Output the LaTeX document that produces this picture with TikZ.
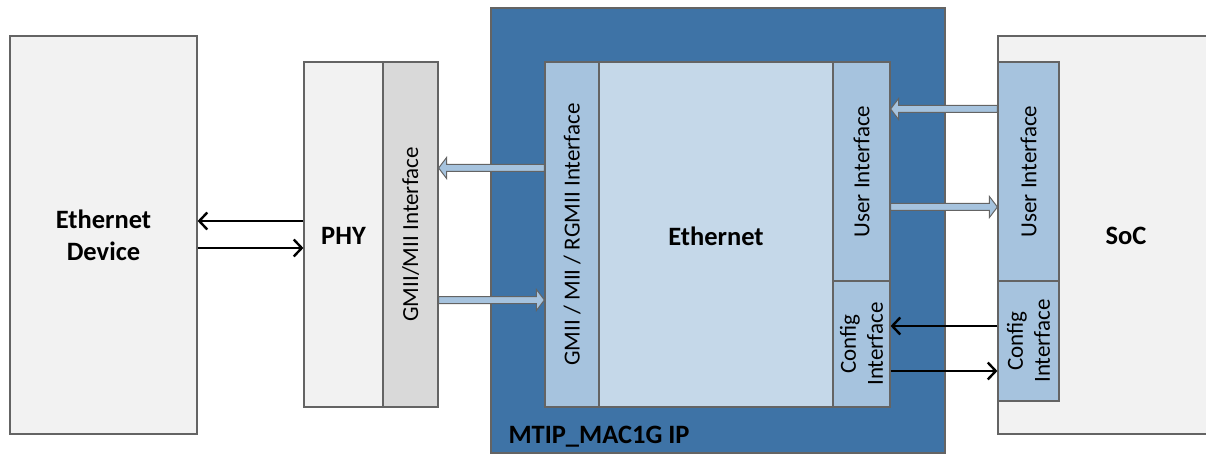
\documentclass[tikz,border=0pt]{standalone}
\usepackage{fontspec}
\setmainfont{Carlito}
\usetikzlibrary{calc,arrows.meta}

\definecolor{boxgray}{HTML}{F2F2F2}
\definecolor{ifgray}{HTML}{D9D9D9}
\definecolor{ipblue}{HTML}{3E73A6}
\definecolor{ifblue}{HTML}{A6C3DE}
\definecolor{coreblue}{HTML}{C5D8E9}
\definecolor{edgegray}{HTML}{646464}

\tikzset{
  blk/.style={draw=edgegray, line width=1.2pt, inner sep=0pt},
  title/.style={font=\fontsize{26.5}{32}\selectfont\bfseries, align=center},
  iftext/.style={rotate=90, font=\fontsize{23}{27}\selectfont, align=center},
  fat/.style={fill=ifblue, draw=edgegray, line width=1pt},
  thin/.style={line width=2.6pt, -{Straight Barb[length=8pt,width=17pt,line width=2.4pt]}}
}

% block arrow between two points of equal height
\newcommand\fatarrow[2]{%
  \draw[fat] let \p1=(#1), \p2=(#2), \n1={ifthenelse(\x2>\x1,1,-1)} in
    (\x1,\y1+3.5pt) -- ({\x2-(\n1*8pt)},\y1+3.5pt) -- ({\x2-(\n1*8pt)},\y1+10.5pt) -- (\x2,\y1)
    -- ({\x2-(\n1*8pt)},\y1-10.5pt) -- ({\x2-(\n1*8pt)},\y1-3.5pt) -- (\x1,\y1-3.5pt) -- cycle;}

\begin{document}
\begin{tikzpicture}[x=1pt,y=-1pt]
\useasboundingbox (0,0) rectangle (1206,454);

% left side
\node[blk, fill=boxgray, minimum width=187pt, minimum height=398pt] (dev) at (103.5,235) {};
\node[title] (devlbl) at (103.5,235) {Ethernet\\Device};

\node[blk, fill=boxgray, minimum width=79pt, minimum height=345pt] (phy) at (343.5,234.5) {};
\node[title] (phylbl) at (343.5,236) {PHY};
\node[blk, fill=ifgray, minimum width=55pt, minimum height=345pt] (phyif) at (410.5,234.5) {};
\node[iftext] (phyiflbl) at (phyif) {GMII/MII Interface};

% the IP
\node[blk, fill=ipblue, minimum width=454pt, minimum height=445pt] (mtip) at (718,230.5) {};
\node[title, anchor=west] (mtiplbl) at (505,437) {MTIP\_MAC1G IP};

\node[blk, fill=ifblue, minimum width=54pt, minimum height=345pt] (ethgmii) at (572,234.5) {};
\node[iftext] (ethgmiilbl) at (ethgmii) {GMII / MII / RGMII Interface};
\node[blk, fill=coreblue, minimum width=234pt, minimum height=345pt] (eth) at (716,234.5) {};
\node[title] (ethlbl) at (716,236) {Ethernet};
\node[blk, fill=ifblue, minimum width=57pt, minimum height=219pt] (ethuser) at (861.5,171.5) {};
\node[iftext] (ethuserlbl) at (ethuser) {User Interface};
\node[blk, fill=ifblue, minimum width=57pt, minimum height=126pt] (ethcfg) at (861.5,344) {};
\node[iftext] (ethcfglbl) at (ethcfg) {Config\\Interface};

% right side
\node[blk, fill=boxgray, minimum width=217pt, minimum height=398pt] (soc) at (1106.5,235) {};
\node[title] (soclbl) at (1126,236) {SoC};
\node[blk, fill=ifblue, minimum width=61pt, minimum height=219pt] (socuser) at (1028.5,171.5) {};
\node[iftext] (socuserlbl) at (socuser) {User Interface};
\node[blk, fill=ifblue, minimum width=61pt, minimum height=120pt] (soccfg) at (1028.5,341) {};
\node[iftext] (soccfglbl) at (soccfg) {Config\\Interface};

% connections
\draw[thin] ([yshift=13.5pt]phy.west) -- ([yshift=14pt]dev.east);
\draw[thin] ([yshift=-13pt]dev.east) -- ([yshift=-13.5pt]phy.west);

\fatarrow{$(ethgmii.west)+(0,-66.5)$}{$(phyif.east)+(0,-66.5)$}
\fatarrow{$(phyif.east)+(0,65.5)$}{$(ethgmii.west)+(0,65.5)$}

\fatarrow{$(socuser.west)+(0,-62.5)$}{$(ethuser.east)+(0,-62.5)$}
\fatarrow{$(ethuser.east)+(0,35.5)$}{$(socuser.west)+(0,35.5)$}

\draw[thin] ([yshift=15pt]soccfg.west) -- ([yshift=18pt]ethcfg.east);
\draw[thin] ([yshift=-27pt]ethcfg.east) -- ([yshift=-30pt]soccfg.west);
\end{tikzpicture}
\end{document}
